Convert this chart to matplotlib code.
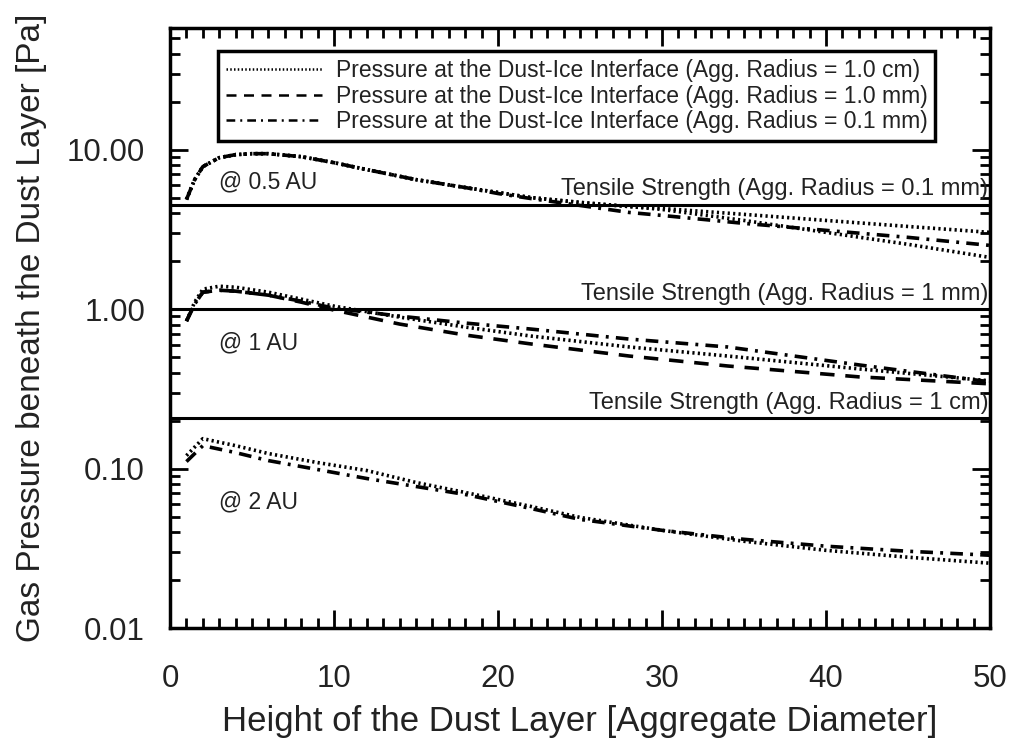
import matplotlib
matplotlib.use('Agg')
import matplotlib.pyplot as plt
from matplotlib.ticker import FixedLocator, MultipleLocator, FormatStrFormatter, LogLocator, NullFormatter

plt.rcParams['font.family'] = ['Liberation Sans', 'DejaVu Sans']

# dust layer height [aggregate diameters]
x_au05 = [1, 1.5, 2, 3, 4, 5, 6, 8, 10, 12, 15, 18, 20, 22, 25, 28, 30, 35, 40, 45, 50]
x_au1 = [1, 1.5, 2, 3, 4, 6, 8, 10, 14, 18, 22, 28, 34, 42, 50]
x_au2 = [1, 2, 4, 6, 9, 12, 15, 18, 22, 25, 30, 35, 40, 45, 50]

# @ 0.5 AU (the 1.0 mm curve is drawn dotted in the original)
p05_cm = [4.87, 6.49, 7.83, 8.91, 9.31, 9.44, 9.44, 9.04, 8.29, 7.50, 6.49, 5.79,
          5.39, 5.01, 4.67, 4.40, 4.28, 3.93, 3.60, 3.30, 3.03]
p05_mm = [4.87, 6.49, 7.83, 8.91, 9.31, 9.44, 9.44, 9.04, 8.29, 7.50, 6.49, 5.79,
          5.39, 5.01, 4.67, 4.40, 4.22, 3.60, 3.03, 2.55, 2.11]
p05_01mm = [4.87, 6.49, 7.83, 8.91, 9.31, 9.44, 9.44, 9.04, 8.29, 7.50, 6.49, 5.79,
            5.31, 4.94, 4.47, 4.04, 3.87, 3.45, 3.12, 2.82, 2.51]

# @ 1 AU
p1_cm = [0.841, 1.106, 1.334, 1.392, 1.372, 1.277, 1.155, 1.044, 0.891, 0.772,
         0.678, 0.579, 0.508, 0.422, 0.355]
p1_mm = [0.841, 1.075, 1.277, 1.314, 1.296, 1.223, 1.106, 0.986, 0.806, 0.688,
         0.605, 0.508, 0.440, 0.376, 0.340]
p1_01mm = [0.841, 1.075, 1.277, 1.314, 1.296, 1.223, 1.122, 1.014, 0.904, 0.818,
           0.750, 0.649, 0.579, 0.447, 0.350]

# @ 2 AU
p2_cm = [0.1206, 0.1540, 0.1392, 0.1242, 0.1090, 0.0972, 0.0818, 0.0708, 0.0579,
         0.0494, 0.0410, 0.0350, 0.0307, 0.0278, 0.0255]
p2_01mm = [0.1106, 0.1392, 0.1259, 0.1122, 0.0986, 0.0866, 0.0772, 0.0688, 0.0562,
           0.0480, 0.0410, 0.0360, 0.0326, 0.0303, 0.0286]

# tensile strengths
tensile = [4.53, 1.0, 0.208]
tensile_labels = ['Tensile Strength (Agg. Radius = 0.1 mm)',
                  'Tensile Strength (Agg. Radius = 1 mm)',
                  'Tensile Strength (Agg. Radius = 1 cm)']
au_labels = ['@ 0.5 AU', '@ 1 AU', '@ 2 AU']
au_label_y = [6.3, 0.61, 0.062]

legend_labels = ['Pressure at the Dust-Ice Interface (Agg. Radius = 1.0 cm)',
                 'Pressure at the Dust-Ice Interface (Agg. Radius = 1.0 mm)',
                 'Pressure at the Dust-Ice Interface (Agg. Radius = 0.1 mm)']

txt = '#222222'
lw = 2.6

fig = plt.figure(figsize=(10.14, 7.44), dpi=100)
ax = fig.add_axes([0.1677, 0.1559, 0.8086, 0.8065])

dot = (0, (0.6, 0.9))
dash = (0, (4.0, 3.0))
dashdot = (0, (3.5, 2.0, 0.8, 2.0))

l1, = ax.plot(x_au05, p05_cm, color='black', lw=lw, ls=dot)
ax.plot(x_au05, p05_mm, color='black', lw=lw, ls=dot)
ax.plot(x_au05, p05_01mm, color='black', lw=lw, ls=dashdot)

ax.plot(x_au1, p1_cm, color='black', lw=lw, ls=dot)
l2, = ax.plot(x_au1, p1_mm, color='black', lw=lw, ls=dash)
l3, = ax.plot(x_au1, p1_01mm, color='black', lw=lw, ls=dashdot)

ax.plot(x_au2, p2_cm, color='black', lw=lw, ls=dot)
ax.plot(x_au2, p2_01mm, color='black', lw=lw, ls=dashdot)

for val, lab in zip(tensile, tensile_labels):
    ax.axhline(val, color='black', lw=2.2)
    ax.text(49.9, val * 1.06, lab, ha='right', va='bottom', fontsize=17, color=txt)

for yv, lab in zip(au_label_y, au_labels):
    ax.text(3.0, yv, lab, ha='left', va='center', fontsize=16.5, color=txt)

ax.set_yscale('log')
ax.set_xlim(0, 50)
ax.set_ylim(0.01, 58)

ax.xaxis.set_major_locator(MultipleLocator(10))
ax.xaxis.set_minor_locator(MultipleLocator(1))
ax.yaxis.set_major_locator(FixedLocator([0.01, 0.1, 1, 10]))
ax.yaxis.set_minor_locator(LogLocator(base=10, subs=range(2, 10)))
ax.yaxis.set_major_formatter(FormatStrFormatter('%.2f'))
ax.yaxis.set_minor_formatter(NullFormatter())

ax.tick_params(which='both', direction='in', top=True, right=True, width=2, colors='black',
               labelcolor=txt, labelsize=22.5)
ax.tick_params(which='major', length=13)
ax.tick_params(which='minor', length=7)
ax.tick_params(axis='x', pad=26)
ax.tick_params(axis='y', pad=18)
for s in ax.spines.values():
    s.set_linewidth(2.5)

ax.set_xlabel('Height of the Dust Layer [Aggregate Diameter]', fontsize=25, color=txt, labelpad=8)
ax.set_ylabel('Gas Pressure beneath the Dust Layer [Pa]', fontsize=24, color=txt, labelpad=14)

h = [l1, l2, l3]
leg = ax.legend(h, legend_labels, loc='upper left', bbox_to_anchor=(0.058, 0.962),
                fontsize=16.5, frameon=True, fancybox=False, edgecolor='black',
                handlelength=4.2, handletextpad=0.6, borderpad=0.35, labelspacing=0.12,
                borderaxespad=0, framealpha=1)
leg.get_frame().set_linewidth(2.5)
for t in leg.get_texts():
    t.set_color(txt)
for line in leg.get_lines():
    line.set_linewidth(1.8)

fig.savefig('out.png', dpi=100)
